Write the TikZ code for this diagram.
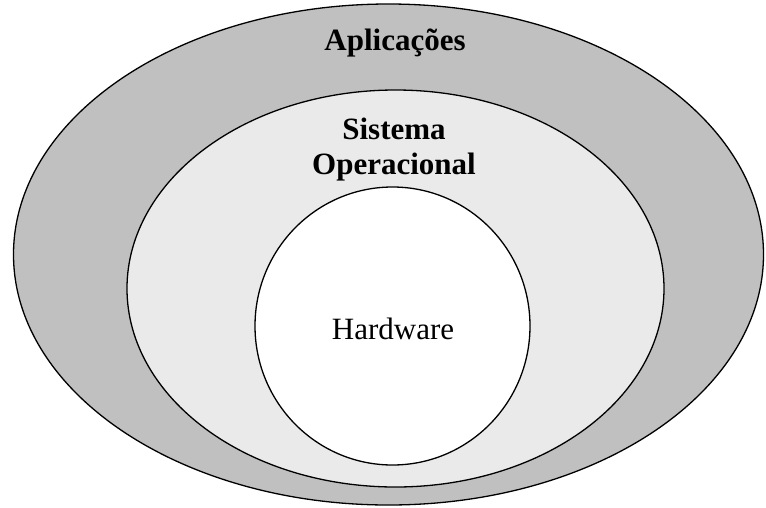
\documentclass[tikz,border=0pt]{standalone}
\usepackage{fontspec}
\setmainfont{Liberation Serif}
\usetikzlibrary{shapes.geometric,positioning}

\definecolor{appgray}{HTML}{C0C0C0}
\definecolor{osgray}{HTML}{EAEAEA}

\tikzset{
  layer/.style={ellipse,draw,line width=1.3pt,inner sep=0pt},
  layername/.style={font=\fontsize{31}{35}\selectfont\bfseries,align=center,inner sep=0pt},
}

\begin{document}
\begin{tikzpicture}[x=1pt,y=-1pt,line cap=round,line join=round]
  \useasboundingbox (0,0) rectangle (766,507);

  % the three nested layers
  \node[layer,fill=appgray,minimum width=750pt,minimum height=501pt] (apps) at (388.5,254.5) {};
  \node[layer,fill=osgray,minimum width=537pt,minimum height=397pt] (os) at (395.5,288.5) {};
  \node[layer,fill=white,minimum width=275pt,minimum height=278pt] (hw) at (392.5,326) {};

  \node[layername] (appsname) at (395,43) {Aplicações};
  \node[layername] (osname) at (394,150) {Sistema\\Operacional};
  \node[font=\fontsize{31}{35}\selectfont,inner sep=0pt] (hwname) at (393,329) {Hardware};
\end{tikzpicture}
\end{document}
